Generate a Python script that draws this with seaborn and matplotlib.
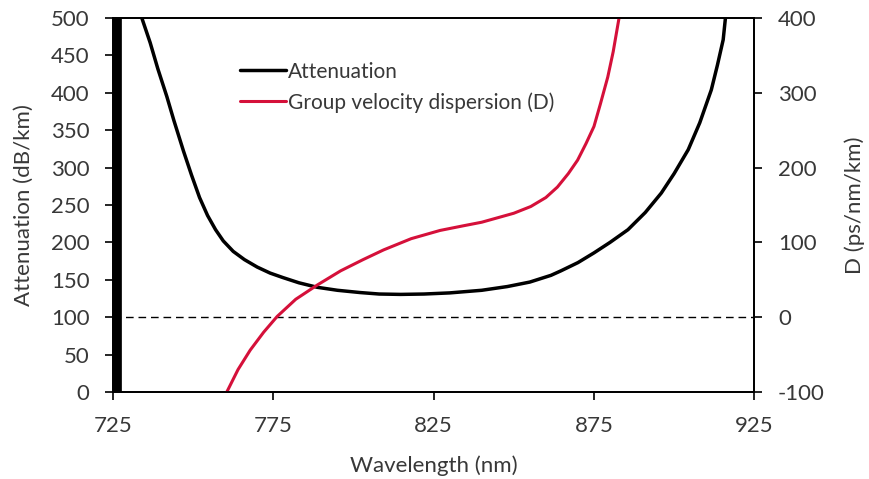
import numpy as np
import pandas as pd
import matplotlib
matplotlib.use("Agg")
import matplotlib.pyplot as plt
import seaborn as sns

# Attenuation (dB/km) vs wavelength (nm)
att_wl = [733.5, 734.0, 736.6, 739.0, 741.8, 744.0, 747.0, 749.5, 752.0, 754.5,
          757.0, 759.4, 762.5, 766.0, 770.0, 774.0, 778.0, 783.0, 788.7, 795.0,
          802.0, 808.0, 814.7, 822.0, 830.0, 840.0, 848.0, 855.0, 861.6, 864.7,
          870.0, 875.0, 880.0, 885.6, 891.0, 896.0, 900.0, 904.4, 908.0, 911.6,
          913.5, 915.3, 916.0, 916.3]
att_val = [520.0, 500.0, 467.0, 432.0, 395.0, 363.0, 322.0, 290.0, 260.0, 236.0,
           217.0, 202.0, 188.0, 177.0, 167.0, 159.0, 153.0, 146.0, 140.0, 136.0,
           133.0, 131.0, 130.5, 131.0, 132.5, 136.0, 141.0, 147.0, 156.0, 162.0,
           173.0, 186.0, 200.0, 217.0, 240.0, 266.0, 292.0, 324.0, 360.0, 404.0,
           437.0, 471.0, 500.0, 520.0]

# Near-vertical attenuation edge at the short-wavelength end
edge_wl = [726.4, 726.4]
edge_val = [0.0, 500.0]

# Group velocity dispersion D (ps/nm/km) vs wavelength (nm)
gvd_wl = [758.5, 760.5, 764.0, 767.8, 772.0, 776.2, 782.0, 788.7, 796.0, 803.0,
          809.4, 818.0, 827.0, 834.0, 840.0, 845.0, 850.0, 855.3, 860.0, 863.6,
          867.0, 869.9, 872.5, 875.0, 877.0, 879.3, 881.0, 882.9, 883.5]
gvd_val = [-120.0, -100.0, -70.0, -44.0, -20.0, 1.0, 24.0, 43.0, 62.0, 77.0,
           90.0, 105.0, 116.0, 122.0, 127.0, 133.0, 139.0, 148.0, 160.0, 174.0,
           192.0, 210.0, 232.0, 255.0, 285.0, 321.0, 355.0, 402.0, 420.0]

# Zero-dispersion reference (D = 0  <->  Attenuation = 100)
ref_level = 100

x_ticks = [725, 775, 825, 875, 925]
att_ticks = [0, 50, 100, 150, 200, 250, 300, 350, 400, 450, 500]
gvd_ticks = [-100, 0, 100, 200, 300, 400]

sns.set_style("ticks")
plt.rcParams['font.family'] = ['Lato', 'DejaVu Sans']
plt.rcParams['axes.unicode_minus'] = False

fig = plt.figure(figsize=(8.69, 4.79), dpi=100)
ax = fig.add_axes([0.130, 0.1816, 0.738, 0.7808])
ax2 = ax.twinx()

df_att = pd.DataFrame({"wl": att_wl, "val": att_val})
df_gvd = pd.DataFrame({"wl": gvd_wl, "val": gvd_val})

sns.lineplot(data=df_att, x="wl", y="val", ax=ax, color="black", lw=2.5,
             sort=False, estimator=None, label="Attenuation", legend=False)
sns.lineplot(x=edge_wl, y=edge_val, ax=ax, color="black", lw=7,
             sort=False, estimator=None, legend=False)
sns.lineplot(data=df_gvd, x="wl", y="val", ax=ax2, color="#d5103a", lw=2.2,
             sort=False, estimator=None, label="Group velocity dispersion (D)", legend=False)

ax.axhline(ref_level, color="black", lw=1.0, ls=(0, (5.5, 3.5)))

ax.set_xlim(725, 925)
ax.set_ylim(0, 500)
ax2.set_ylim(-100, 400)
ax.set_xticks(x_ticks)
ax.set_yticks(att_ticks)
ax2.set_yticks(gvd_ticks)

fs = 16
tc = "#383838"
ax.set_xlabel("Wavelength (nm)", fontsize=fs, color=tc, labelpad=14)
ax.set_ylabel("Attenuation (dB/km)", fontsize=fs, color=tc, labelpad=12)
ax2.set_ylabel("D (ps/nm/km)", fontsize=fs, color=tc, labelpad=14)
for a in (ax, ax2):
    a.tick_params(axis="both", labelsize=fs, direction="out", length=6, width=1.2,
                  pad=11, colors="black", labelcolor=tc)
    for s in a.spines.values():
        s.set_visible(True)
        s.set_linewidth(1.3)
        s.set_color("black")

h1, l1 = ax.get_legend_handles_labels()
h2, l2 = ax2.get_legend_handles_labels()
leg = ax.legend(h1 + h2, l1 + l2, loc="upper left", bbox_to_anchor=(0.198, 0.883),
                frameon=False, fontsize=15, handlelength=2.2, handletextpad=0.1,
                labelspacing=0.5, borderaxespad=0, borderpad=0)
for t in leg.get_texts():
    t.set_color(tc)

fig.savefig("out.png", dpi=100)
